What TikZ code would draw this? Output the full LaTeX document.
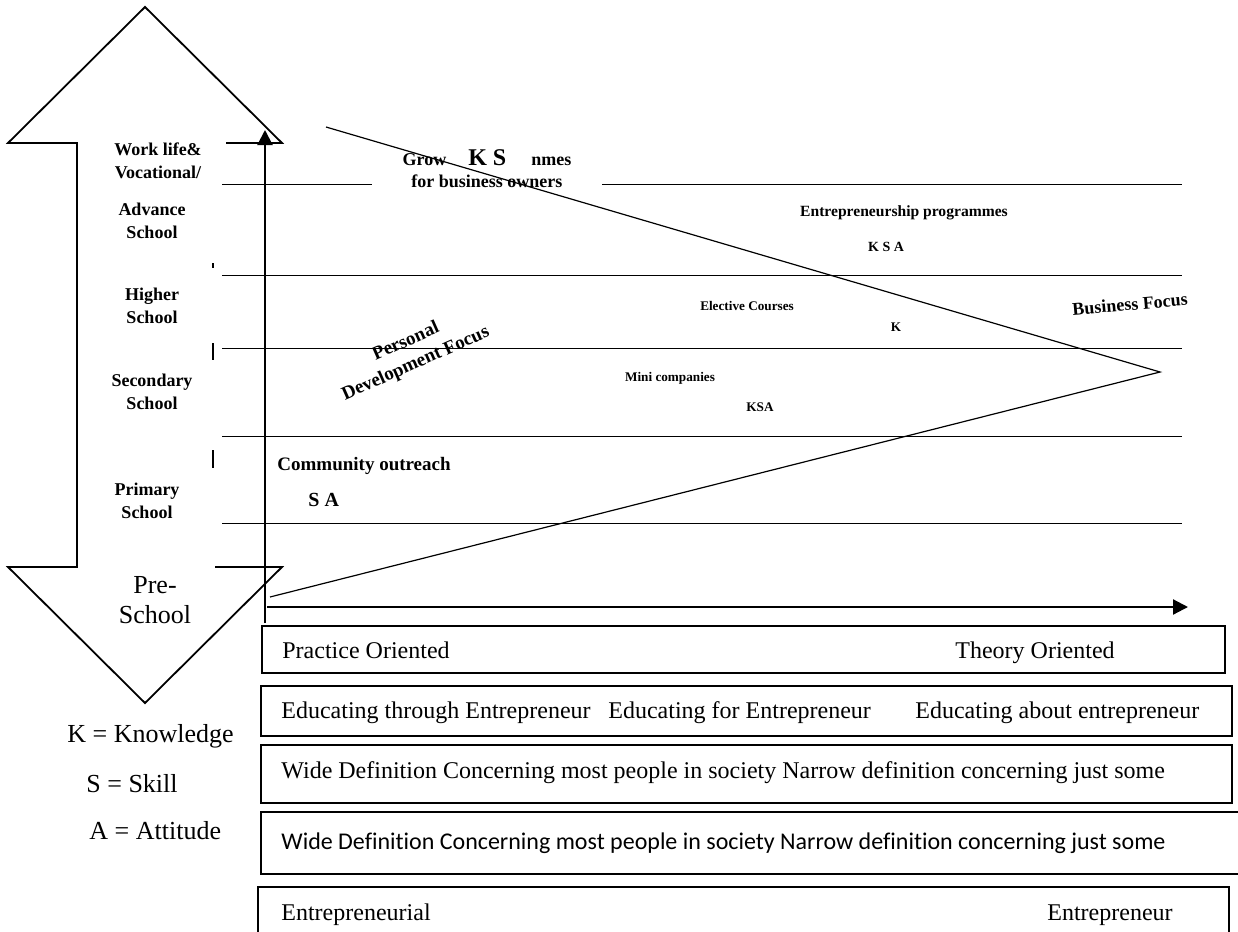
\documentclass[tikz,border=0pt]{standalone}
\usepackage{fontspec}
\setmainfont{Liberation Serif}
\newfontfamily\carlito[Ligatures=NoCommon]{Carlito}
\usepackage{tikz}
\usetikzlibrary{arrows.meta, positioning}
\tikzstyle{level} = [font=\bfseries\fontsize{9}{11.5}\selectfont, align=center, inner sep=1pt]
\tikzstyle{small} = [font=\bfseries\fontsize{6.6}{8}\selectfont, inner sep=1pt]
\tikzstyle{boxtext} = [font=\fontsize{12}{14}\selectfont, anchor=base west, inner sep=0pt]
\tikzstyle{legend} = [font=\fontsize{13}{15}\selectfont, anchor=base west, inner sep=0pt]
\tikzstyle{band} = [line width=0.5pt]
\tikzstyle{axis} = [line width=1.1pt, -{Triangle[length=7.5pt,width=7.5pt]}]

\begin{document}
\begin{tikzpicture}[x=0.5pt, y=-0.5pt]
    \useasboundingbox (0,0) rectangle (1238,932);
    % Double arrow of school levels
    \draw[line width=0.9pt] (226,143) -- (282,143) -- (145,7) -- (8,143) -- (77,143) -- (77,567)
        -- (8,567) -- (145,703) -- (282,567) -- (215,567);
    \foreach \ya/\yb in {263/268, 343/360, 450/468}
        \draw[line width=0.9pt] (213,\ya) -- (213,\yb);

    % Level bands
    \foreach \y in {184,275,348,436,523}
        \draw[band] (222,\y) -- (1182,\y);

    \node[level] (work) at (158,161) {Work life\&\\Vocational/};
    \node[level] (adv) at (152,221) {Advance\\School};
    \node[level] (high) at (152,306) {Higher\\School};
    \node[level] (sec) at (152,392) {Secondary\\School};
    \node[level] (prim) at (147,501) {Primary\\School};
    \node[font=\fontsize{13}{15}\selectfont, align=center, inner sep=0pt] (pre) at (155,600) {Pre-\\School};

    % Axes
    \coordinate (yb) at (265,623);
    \coordinate (yt) at (265,130);
    \coordinate (xl) at (267,607);
    \coordinate (xr) at (1188,607);
    \draw[axis] (yb) -- (yt);
    \draw[axis] (xl) -- (xr);

    % Programmes
    \node[fill=white, minimum width=115pt, minimum height=22pt, align=center, inner sep=0pt,
        font=\bfseries\fontsize{9}{11}\selectfont] (grow) at (487,169)
        {Grow\hspace{11pt}{\fontsize{12}{12}\selectfont K S}\hspace{12.5pt}nmes\\for business owners};
    \node[font=\bfseries\fontsize{7.8}{9}\selectfont, inner sep=1pt] (prog) at (904,213) {Entrepreneurship programmes};
    \node[font=\bfseries\fontsize{7}{8}\selectfont, inner sep=1pt] (progksa) at (886,247) {K S A};
    \node[small] (elect) at (747,306) {Elective Courses};
    \node[small] (electk) at (896,327) {K};
    \node[small] (mini) at (670,378) {Mini companies};
    \node[small] (miniksa) at (760,407) {KSA};
    \node[font=\bfseries\fontsize{9.5}{11}\selectfont, anchor=west, inner sep=0pt] (comm) at (277,466) {Community outreach};
    \node[font=\bfseries\fontsize{10}{11}\selectfont, anchor=west, inner sep=0pt] (commsa) at (308,500) {S A};

    % Focus triangle
    \coordinate (tl) at (326,127);
    \coordinate (tip) at (1160,372);
    \coordinate (bl) at (270,597);
    \draw[line width=0.6pt] (tl) -- (tip) -- (bl);
    \node[font=\bfseries\fontsize{9}{10}\selectfont, rotate=5] (bus) at (1130,304) {Business Focus};
    \node[font=\bfseries\fontsize{9.5}{12}\selectfont, align=center, rotate=24, inner sep=0pt] (pers) at (411,353) {Personal\\Development Focus};

    % Legend
    \node[legend] (kk) at (67,742) {K = Knowledge};
    \node[legend] (ss) at (86,792) {S = Skill};
    \node[legend] (aa) at (89,839) {A = Attitude};

    % Continua
    \draw[line width=0.6pt] (262,626) rectangle (1225,673);
    \draw[line width=0.6pt] (261,686) rectangle (1232,736);
    \draw[line width=0.6pt] (261,745) rectangle (1232,803);
    \draw[line width=0.6pt] (261,812) rectangle (1240,874);
    \draw[line width=0.6pt] (258,887) rectangle (1229,940);
    \node[boxtext] (prac) at (282,658) {Practice Oriented};
    \node[boxtext] (theo) at (955,658) {Theory Oriented};
    \node[boxtext] (through) at (281,718) {Educating through Entrepreneur};
    \node[boxtext] (for) at (608,718) {Educating for Entrepreneur};
    \node[boxtext] (about) at (915,718) {Educating about entrepreneur};
    \node[boxtext] (wide) at (281,778) {Wide Definition Concerning most people in society Narrow definition concerning just some};
    \node[boxtext, font=\carlito\fontsize{12}{14}\selectfont] (widesans) at (281,849) {Wide Definition Concerning most people in society Narrow definition concerning just some};
    \node[boxtext] (ental) at (281,920) {Entrepreneurial};
    \node[boxtext] (ent) at (1047,920) {Entrepreneur};
\end{tikzpicture}
\end{document}
